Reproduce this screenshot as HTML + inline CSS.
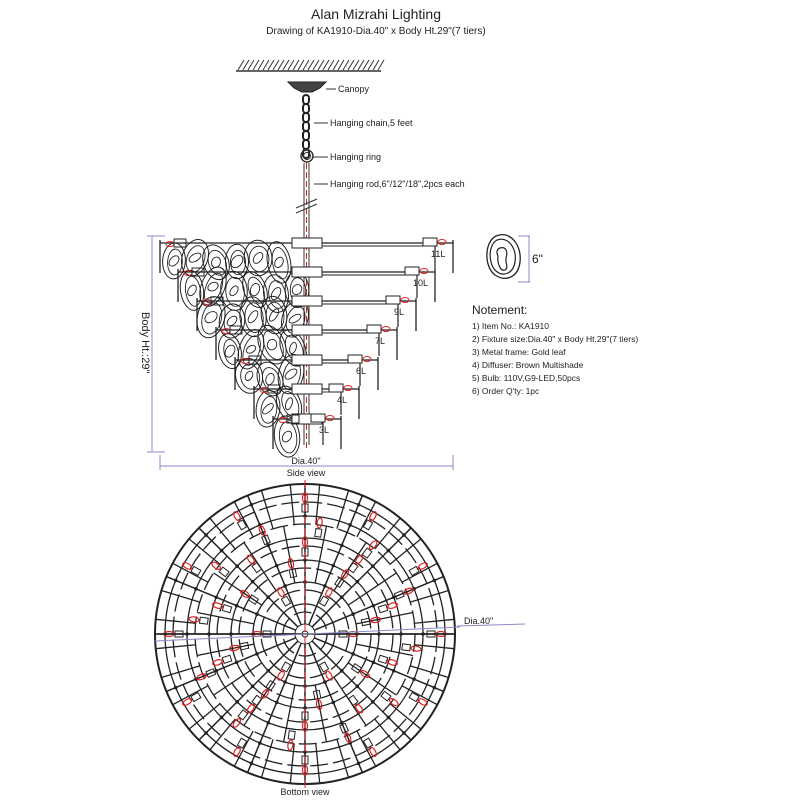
<!DOCTYPE html>
<html><head><meta charset="utf-8">
<style>
html,body{margin:0;padding:0;background:#fff;}
svg{display:block;}
text{font-family:"Liberation Sans",Arial,sans-serif;fill:#222;}
</style></head>
<body>
<svg id="s" width="800" height="800" viewBox="0 0 800 800" xmlns="http://www.w3.org/2000/svg">
<text x="376" y="19" font-size="14" text-anchor="middle">Alan Mizrahi Lighting</text>
<text x="376" y="34" font-size="10" text-anchor="middle">Drawing of KA1910-Dia.40" x Body Ht.29"(7 tiers)</text>
<line x1="236" y1="71" x2="381" y2="71" stroke="#333" stroke-width="1.5"/>
<g id="hatch"></g>
<path d="M288 82 L326 82 L320 88 L312 92 L302 92 L294 88 Z" fill="#444" stroke="#222"/>
<line x1="326" y1="89" x2="336" y2="89" stroke="#333"/>
<text x="338" y="92" font-size="9">Canopy</text>
<g id="chain"></g>
<line x1="314" y1="123" x2="328" y2="123" stroke="#333"/>
<text x="330" y="126" font-size="9">Hanging chain,5 feet</text>
<circle cx="307" cy="156" r="6" fill="none" stroke="#333" stroke-width="1.5"/>
<circle cx="307" cy="156" r="3.5" fill="none" stroke="#333"/>
<line x1="313" y1="157" x2="328" y2="157" stroke="#333"/>
<text x="330" y="160" font-size="9">Hanging ring</text>
<line x1="304" y1="163" x2="304" y2="445" stroke="#333"/>
<line x1="309" y1="163" x2="309" y2="445" stroke="#333"/>
<line x1="306.5" y1="163" x2="306.5" y2="450" stroke="#d22" stroke-dasharray="6,3"/>
<line x1="314" y1="184" x2="328" y2="184" stroke="#333"/>
<text x="330" y="187" font-size="9">Hanging rod,6"/12"/18",2pcs each</text>
<line x1="296" y1="208" x2="317" y2="199" stroke="#333"/>
<line x1="296" y1="213" x2="317" y2="204" stroke="#333"/>
<g id="side"></g>
<line x1="152" y1="236" x2="152" y2="452" stroke="#88c"/>
<line x1="147" y1="236" x2="165" y2="236" stroke="#88c"/>
<line x1="147" y1="452" x2="165" y2="452" stroke="#88c"/>
<text x="0" y="0" font-size="11" transform="translate(142,312) rotate(90)">Body Ht.:29"</text>
<line x1="160" y1="466" x2="453" y2="466" stroke="#88c"/>
<line x1="160" y1="455" x2="160" y2="470" stroke="#88c"/>
<line x1="453" y1="455" x2="453" y2="470" stroke="#88c"/>
<text x="306" y="464" font-size="9" text-anchor="middle">Dia.40"</text>
<text x="306" y="476" font-size="9" text-anchor="middle">Side view</text>
<path d="M496 236 C510 230 522 245 520 262 C518 278 505 282 495 275 C484 267 484 242 496 236Z" fill="none" stroke="#222" stroke-width="1.3"/>
<path d="M497 240 C508 236 517 248 515 262 C513 274 503 277 496 271 C488 264 488 245 497 240Z" fill="none" stroke="#222" stroke-width="1.2"/>
<path d="M500 248 C506 246 508 252 506 258 C505 262 509 268 505 270 C500 272 497 262 498 256 C496 252 497 249 500 248Z" fill="none" stroke="#222" stroke-width="1.2"/>
<line x1="518" y1="236" x2="530" y2="236" stroke="#88c"/>
<line x1="518" y1="282" x2="530" y2="282" stroke="#88c"/>
<line x1="529" y1="236" x2="529" y2="282" stroke="#88c"/>
<text x="532" y="263" font-size="12">6"</text>
<text x="472" y="314" font-size="12">Notement:</text>
<text x="472" y="329" font-size="8.5">1) Item No.: KA1910</text>
<text x="472" y="342" font-size="8.5">2) Fixture size:Dia.40" x Body Ht.29"(7 tiers)</text>
<text x="472" y="355" font-size="8.5">3) Metal frame: Gold leaf</text>
<text x="472" y="368" font-size="8.5">4) Diffuser: Brown Multishade</text>
<text x="472" y="381" font-size="8.5">5) Bulb: 110V,G9-LED,50pcs</text>
<text x="472" y="394" font-size="8.5">6) Order Q'ty: 1pc</text>
<g id="bottom"></g>
<line x1="155" y1="641" x2="460" y2="627" stroke="#88c"/>
<line x1="457" y1="626" x2="525" y2="624" stroke="#88c"/>
<text x="464" y="624" font-size="9">Dia.40"</text>
<text x="305" y="795" font-size="9" text-anchor="middle">Bottom view</text>
</svg>
<script>
var NS="http://www.w3.org/2000/svg";
function el(p,t,a){var e=document.createElementNS(NS,t);for(var k in a)e.setAttribute(k,a[k]);document.getElementById(p).appendChild(e);return e;}
for(var x=238;x<380;x+=5) el("hatch","line",{x1:x,y1:70,x2:x+6,y2:60,stroke:"#333"});
for(var y=95;y<150;y+=9) el("chain","rect",{x:303,y:y,width:6,height:9,rx:3,fill:"none",stroke:"#222","stroke-width":2});
var ys=[243,272,301,330,360,389,419],R=[453,435,416,397,378,359,341],L=[160,178,197,216,235,254,273],lab=["11L","10L","9L","7L","6L","4L","3L"];
// discs first
var seed=7;function rnd(){seed=(seed*9301+49297)%233280;return seed/233280;}
for(var i=0;i<7;i++){
 var y=ys[i];
 for(var x=L[i]+14;x<300;x+=21){
  var cy=y+14+rnd()*8,rot=rnd()*50-25,rx=11+rnd()*3,ry=17+rnd()*4;
  var g="rotate("+rot+" "+x+" "+cy+")";
  el("side","ellipse",{cx:x,cy:cy,rx:rx,ry:ry,fill:"none",stroke:"#222","stroke-width":1,transform:g});
  el("side","ellipse",{cx:x+1,cy:cy+1,rx:rx-4,ry:ry-5,fill:"none",stroke:"#222","stroke-width":0.9,transform:g});
  el("side","ellipse",{cx:x,cy:cy,rx:3+rnd()*2,ry:5+rnd()*2,fill:"none",stroke:"#222","stroke-width":0.9,transform:"rotate("+(rot+40)+" "+x+" "+cy+")"});
 }
}
for(var i=0;i<7;i++){
 var y=ys[i];
 el("side","line",{x1:L[i],y1:y,x2:R[i],y2:y,stroke:"#222","stroke-width":1.2});
 el("side","line",{x1:322,y1:y+3,x2:R[i]-28,y2:y+3,stroke:"#222","stroke-width":0.9});
 el("side","rect",{x:292,y:y-5,width:30,height:10,fill:"#fff",stroke:"#222"});
 el("side","line",{x1:R[i],y1:y-3,x2:R[i],y2:y+30,stroke:"#222","stroke-width":1.3});
 el("side","line",{x1:L[i],y1:y-3,x2:L[i],y2:y+30,stroke:"#222","stroke-width":1.3});
 el("side","line",{x1:R[i]-18,y1:y-3,x2:R[i]-18,y2:y+26,stroke:"#222","stroke-width":1.2});
 el("side","rect",{x:R[i]-30,y:y-5,width:14,height:8,fill:"#fff",stroke:"#222"});
 el("side","ellipse",{cx:R[i]-11,cy:y-1,rx:4,ry:2.5,fill:"none",stroke:"#d22"});
 el("side","ellipse",{cx:L[i]+10,cy:y+1,rx:4,ry:2.5,fill:"none",stroke:"#d22"});
 el("side","rect",{x:L[i]+14,y:y-4,width:12,height:8,fill:"none",stroke:"#222"});
 var t=el("side","text",{x:R[i]-22,y:y+14,"font-size":9});t.textContent=lab[i];
}
var cx=305,cy=634;
el("bottom","circle",{cx:cx,cy:cy,r:150,fill:"none",stroke:"#222","stroke-width":2});
var rings=[140,132,118,110,96,88,74,66,52,44,30,22];
rings.forEach(function(r,j){el("bottom","circle",{cx:cx,cy:cy,r:r,fill:"none",stroke:"#222","stroke-width":1.3,"stroke-dasharray":j%2?"18,5":"none"});});
el("bottom","circle",{cx:cx,cy:cy,r:10,fill:"#fff",stroke:"#222"});
el("bottom","circle",{cx:cx,cy:cy,r:3,fill:"none",stroke:"#222"});
for(var k=0;k<16;k++){
 var a=k*2*Math.PI/16;
 el("bottom","line",{x1:cx+10*Math.cos(a),y1:cy+10*Math.sin(a),x2:cx+150*Math.cos(a),y2:cy+150*Math.sin(a),stroke:"#222","stroke-width":1.5});
 [140,118,96,74,52].forEach(function(r){el("bottom","circle",{cx:cx+r*Math.cos(a),cy:cy+r*Math.sin(a),r:1.8,fill:"#222"});});
}
for(var k=0;k<32;k++){
 var a=(k+0.5)*2*Math.PI/32;
 el("bottom","line",{x1:cx+110*Math.cos(a),y1:cy+110*Math.sin(a),x2:cx+150*Math.cos(a),y2:cy+150*Math.sin(a),stroke:"#222","stroke-width":1.3});
}
for(var k=0;k<16;k++){
 var a=(k+0.5)*2*Math.PI/16;
 el("bottom","line",{x1:cx+52*Math.cos(a),y1:cy+52*Math.sin(a),x2:cx+110*Math.cos(a),y2:cy+110*Math.sin(a),stroke:"#222","stroke-width":1.3});
}
var br=[[136,12],[112,12],[92,10],[72,8],[48,6]];
br.forEach(function(b,j){
 for(var k=0;k<b[1];k++){
  var a=(k+0.25*j)*2*Math.PI/b[1];
  var px=cx+b[0]*Math.cos(a),py=cy+b[0]*Math.sin(a),d=a*180/Math.PI;
  el("bottom","ellipse",{cx:px,cy:py,rx:5,ry:2.5,fill:"none",stroke:"#d22","stroke-width":1.2,transform:"rotate("+d+" "+px+" "+py+")"});
  el("bottom","rect",{x:px-14,y:py-3,width:8,height:6,fill:"none",stroke:"#222",transform:"rotate("+d+" "+px+" "+py+")"});
 }
});
el("bottom","line",{x1:cx,y1:480,x2:cx,y2:790,stroke:"#d22","stroke-dasharray":"8,4"});
el("bottom","line",{x1:157,y1:cy,x2:455,y2:cy,stroke:"#222","stroke-width":1.4});
</script>
</body></html>
